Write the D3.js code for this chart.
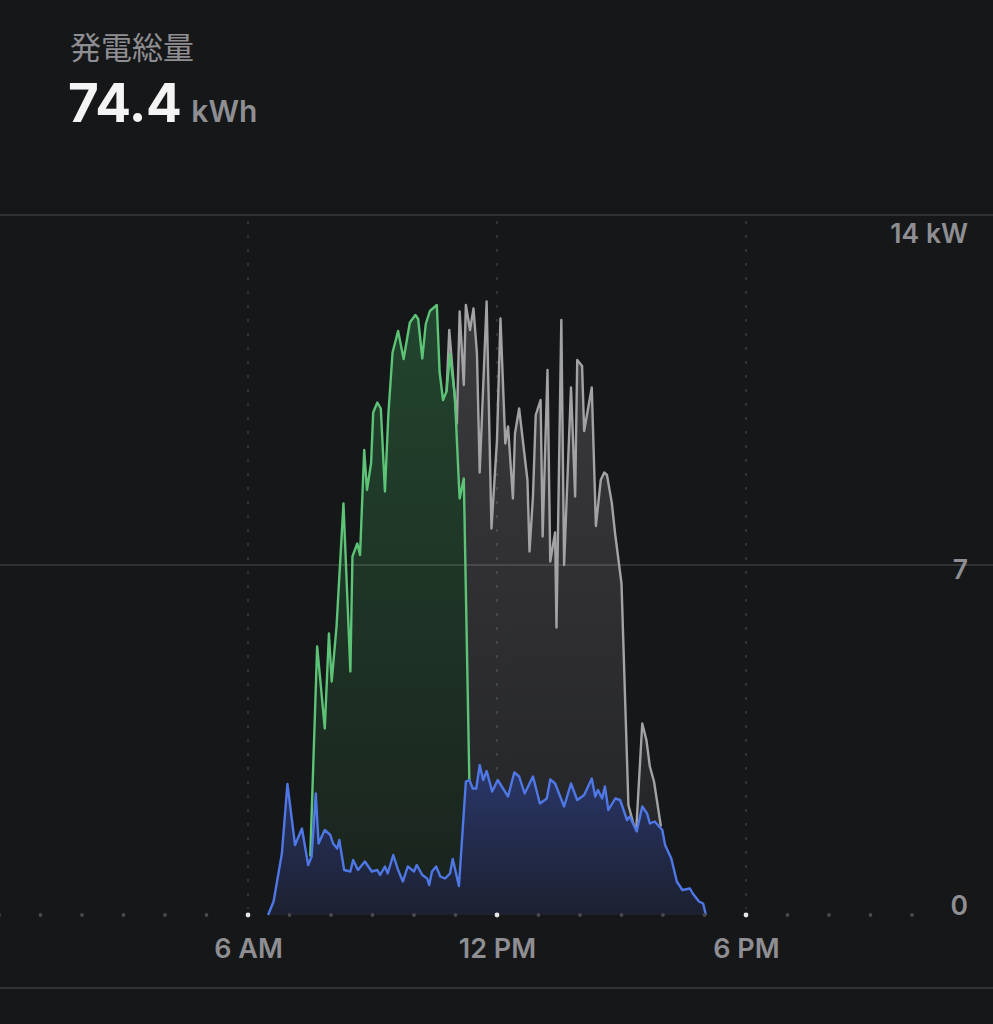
<!DOCTYPE html>
<html>
<head>
<meta charset="utf-8">
<script src="https://cdn.jsdelivr.net/npm/d3@7/dist/d3.min.js"></script>
<style>
  html, body { margin: 0; padding: 0; background: #161719; }
  svg { display: block; }
</style>
</head>
<body>
<svg id="chart" width="993" height="1024"></svg>
<script>
// ---------- data ----------
const titleLabel = "発電総量";
const totalValue = "74.4";
const totalUnit = "kWh";

const xTickHours = [6, 12, 18];
const xTickLabels = ["6 AM", "12 PM", "6 PM"];
const hourDots = d3.range(0, 23);
const yTicks = [0, 7, 14];
const yTickLabels = ["0", "7", "14 kW"];

// blue series (kW)
const blueTimes = ["06:29","06:37","06:49","06:57","07:08","07:18","07:27","07:32","07:38","07:42","07:51","07:59","08:03","08:09","08:12","08:19","08:28","08:32","08:39","08:49","08:59","09:07","09:11","09:18","09:22","09:30","09:37","09:44","09:51","10:00","10:04","10:12","10:19","10:22","10:26","10:32","10:38","10:45","10:52","10:56","11:05","11:15","11:20","11:25","11:30","11:35","11:40","11:45","11:53","12:01","12:16","12:25","12:32","12:40","12:52","13:02","13:12","13:17","13:24","13:37","13:47","13:56","14:06","14:17","14:22","14:26","14:32","14:36","14:41","14:51","14:58","15:08","15:12","15:22","15:30","15:37","15:41","15:48","15:59","16:03","16:12","16:20","16:28","16:39","16:43","16:52","16:58","17:02"];
const blueValues = [0,0.27,1.23,2.62,1.4,1.73,1.0,1.17,2.43,1.43,1.7,1.6,1.43,1.33,1.5,0.9,0.87,1.1,0.9,1.07,0.87,0.9,0.8,0.97,0.83,1.2,0.9,0.67,0.97,0.87,1.0,0.8,0.73,0.6,0.87,0.97,0.77,0.73,0.83,1.12,0.58,2.67,2.7,2.53,2.53,3.0,2.7,2.88,2.47,2.7,2.37,2.85,2.77,2.43,2.77,2.23,2.33,2.71,2.63,2.17,2.63,2.3,2.4,2.73,2.37,2.5,2.33,2.57,2.1,2.33,2.3,1.9,1.97,1.67,2.17,2.03,1.83,1.87,1.7,1.4,1.13,0.67,0.5,0.53,0.43,0.27,0.23,0];

// green series (kW)
const greenTimes = ["07:30","07:40","07:51","07:57","08:01","08:08","08:18","08:28","08:31","08:38","08:42","08:48","08:52","08:58","09:01","09:07","09:12","09:18","09:23","09:29","09:37","09:45","09:54","10:02","10:06","10:12","10:17","10:23","10:33","10:37","10:42","10:47","10:52","10:59","11:05","11:06","11:12","11:20"];
const greenValues = [1.17,5.37,3.73,5.63,4.67,5.77,8.23,4.87,7.17,7.43,7.2,9.3,8.5,9.04,10.05,10.25,10.13,8.47,10.03,11.25,11.68,11.12,11.85,12.0,11.92,11.13,11.82,12.08,12.2,10.86,10.3,10.47,11.22,10.4,8.6,8.33,8.73,2.7];

// gray series (kW)
const grayTimes = ["10:47","10:51","11:02","11:06","11:12","11:15","11:21","11:26","11:31","11:35","11:45","11:52","12:00","12:05","12:12","12:16","12:23","12:26","12:32","12:44","12:47","12:52","12:56","13:03","13:06","13:13","13:17","13:24","13:26","13:33","13:37","13:47","13:53","13:56","14:03","14:06","14:17","14:23","14:30","14:35","14:39","14:46","14:51","15:00","15:10","15:21","15:30","15:36","15:41","15:47","15:57"];
const grayValues = [10.47,11.7,9.83,12.07,10.6,12.2,11.7,12.13,11.23,8.85,12.27,7.73,9.5,11.93,9.43,9.77,8.33,9.63,10.13,8.7,7.27,8.37,10.0,10.3,7.57,10.9,7.07,7.65,5.75,11.9,7.0,10.55,8.37,11.1,10.98,9.68,10.55,7.78,8.7,8.85,8.8,8.24,7.6,6.63,2.2,1.63,3.83,3.5,2.97,2.67,1.77];

// ---------- helpers ----------
const toHour = s => { const [h, m] = s.split(":").map(Number); return h + m / 60; };
const zip = (ts, vs) => ts.map((t, i) => ({ h: toHour(t), v: vs[i] }));
const blue = zip(blueTimes, blueValues);
const green = zip(greenTimes, greenValues);
const gray = zip(grayTimes, grayValues);

// ---------- layout ----------
const W = 993, H = 1024;
const svg = d3.select("#chart");
const x = d3.scaleLinear().domain([0, 24]).range([-1, 995]);
const y = d3.scaleLinear().domain([0, 14]).range([915, 215]);

const defs = svg.append("defs");
function grad(id, stops, y1, y2) {
  const g = defs.append("linearGradient").attr("id", id)
    .attr("gradientUnits", "userSpaceOnUse")
    .attr("x1", 0).attr("x2", 0).attr("y1", y1).attr("y2", y2);
  stops.forEach(([o, c]) => g.append("stop").attr("offset", o).attr("stop-color", c));
}
grad("gGreen", [[0, "#22452e"], [1, "#1a221d"]], y(12.3), y(0));
grad("gGray", [[0, "#3b3b3e"], [1, "#222326"]], y(12.3), y(0));
grad("gBlue", [[0, "#2a376a"], [1, "#1c2030"]], y(3), y(0));

// ---------- header ----------
svg.append("text").attr("x", 70).attr("y", 59)
  .attr("font-family", "'Noto Sans CJK JP', sans-serif")
  .attr("font-size", 31).attr("fill", "#8e8e93").text(titleLabel);
const big = svg.append("text").attr("x", 68).attr("y", 122)
  .attr("font-family", "Inter, 'Noto Sans', sans-serif");
big.append("tspan").attr("font-size", 53).attr("font-weight", 700)
  .attr("fill", "#f4f4f5").attr("letter-spacing", -0.5).text(totalValue);
big.append("tspan").attr("dx", 10).attr("font-size", 30).attr("font-weight", 600)
  .attr("fill", "#8e8e93").text(totalUnit);

// ---------- areas ----------
const area = d3.area().x(d => x(d.h)).y0(y(0)).y1(d => y(d.v));
const line = d3.line().x(d => x(d.h)).y(d => y(d.v));

svg.append("path").datum(gray).attr("d", area).attr("fill", "url(#gGray)");
svg.append("path").datum(green).attr("d", area).attr("fill", "url(#gGreen)");

// ---------- grid ----------
const grid = svg.append("g");
grid.selectAll("line.h").data(yTicks.filter(t => t > 0)).join("line")
  .attr("x1", 0).attr("x2", W).attr("y1", d => y(d)).attr("y2", d => y(d))
  .attr("stroke", "rgba(255,255,255,0.16)").attr("stroke-width", 1.5);
grid.selectAll("line.v").data(xTickHours).join("line")
  .attr("x1", d => x(d)).attr("x2", d => x(d)).attr("y1", y(14) + 6).attr("y2", y(0) - 6)
  .attr("stroke", "rgba(255,255,255,0.16)").attr("stroke-width", 1.5)
  .attr("stroke-dasharray", "3,11");

// ---------- lines ----------
svg.append("path").datum(gray).attr("d", line).attr("fill", "none")
  .attr("stroke", "#a3a3a6").attr("stroke-width", 2.4).attr("stroke-linejoin", "round");
svg.append("path").datum(green).attr("d", line).attr("fill", "none")
  .attr("stroke", "#5cc377").attr("stroke-width", 2.4).attr("stroke-linejoin", "round");
svg.append("path").datum(blue).attr("d", area).attr("fill", "url(#gBlue)");
svg.append("path").datum(blue).attr("d", line).attr("fill", "none")
  .attr("stroke", "#4f78e6").attr("stroke-width", 2.4).attr("stroke-linejoin", "round");

// ---------- baseline hour dots ----------
svg.append("g").selectAll("circle").data(hourDots).join("circle")
  .attr("cx", d => x(d)).attr("cy", y(0))
  .attr("r", d => xTickHours.includes(d) ? 2.4 : 1.9)
  .attr("fill", d => xTickHours.includes(d) ? "#e6e6e8" : "#4a4a4d");

// ---------- axis labels ----------
const xAxis = d3.axisBottom(x).tickValues(xTickHours)
  .tickFormat((d, i) => xTickLabels[i]).tickSize(0).tickPadding(0);
const gx = svg.append("g").attr("transform", `translate(0, ${y(0)})`).call(xAxis);
gx.select(".domain").remove();
gx.selectAll("text").attr("y", 43).attr("dy", null)
  .attr("font-family", "Inter, sans-serif").attr("font-size", 27).attr("font-weight", 600)
  .attr("fill", "#8e8e93");

const yLabelOffsets = { 0: 0, 7: 14, 14: 28 };
svg.append("g").selectAll("text").data(yTicks).join("text")
  .attr("x", 968).attr("y", d => y(d) + yLabelOffsets[d])
  .attr("text-anchor", "end")
  .attr("font-family", "Inter, sans-serif").attr("font-size", 26.5).attr("font-weight", 600)
  .attr("fill", "#8e8e93")
  .text((d, i) => yTickLabels[i]);

// bottom separator
svg.append("line").attr("x1", 0).attr("x2", W).attr("y1", 988).attr("y2", 988)
  .attr("stroke", "#303134").attr("stroke-width", 2);
</script>
</body>
</html>
